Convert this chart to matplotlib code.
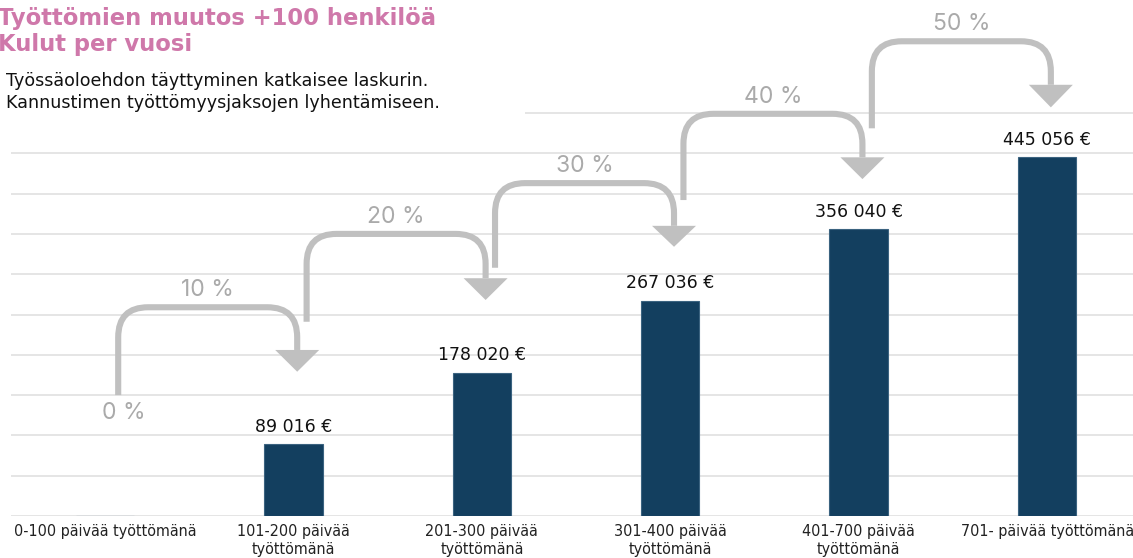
import matplotlib
matplotlib.use("Agg")
import matplotlib.pyplot as plt
from matplotlib.path import Path
from matplotlib.patches import PathPatch, Polygon, Rectangle

# data
categories = ["0-100 päivää työttömänä", "101-200 päivää\ntyöttömänä",
              "201-300 päivää\ntyöttömänä", "301-400 päivää\ntyöttömänä",
              "401-700 päivää\ntyöttömänä", "701- päivää työttömänä"]
values = [0, 89016, 178020, 267036, 356040, 445056]
percents = ["0 %", "10 %", "20 %", "30 %", "40 %", "50 %"]

# step arrows between categories (euros on the value scale)
arrow_start = [150000, 241000, 308000, 392000, 481000]
arrow_top = [259000, 350000, 413000, 499000, 589000]
arrow_head = [206000, 295000, 360000, 445000, 535000]
arrow_tip = [179000, 268000, 334000, 418000, 507000]

BAR = "#133f5f"
GREY = "#c0c0c0"
PINK = "#cf78aa"

fig = plt.figure(figsize=(11.33, 5.58), dpi=100)
ax = fig.add_axes([10.8 / 1133, 42 / 558, 1 - 10.8 / 1133, 516 / 558])
ax.set_xlim(-0.5, 5.456)
ax.set_ylim(0, 516 * 1240.7)

x = list(range(len(categories)))
ax.bar(x, values, width=0.31, color=BAR, edgecolor="#3b6380", linewidth=0.8, zorder=3)

for xi, v in zip(x, values):
    if v > 0:
        lab = f"{v:,}".replace(",", " ") + " €"
        ax.annotate(lab, (xi, v), xytext=(0, 6), textcoords="offset points",
                    ha="center", va="bottom", fontsize=12.5, color="#111111",
                    family="DejaVu Sans", zorder=4)

# arrows
px_x = 1 / 188.4
px_y = 1240.7
r = 30
for i in range(1, len(values)):
    xl = i - 1 + 0.07
    xr = i + 0.02
    top = arrow_top[i - 1]
    rx, ry = r * px_x, r * px_y
    verts = [(xl, arrow_start[i - 1]), (xl, top - ry), (xl, top), (xl + rx, top),
             (xr - rx, top), (xr, top), (xr, top - ry), (xr, arrow_head[i - 1])]
    codes = [Path.MOVETO, Path.LINETO, Path.CURVE3, Path.CURVE3,
             Path.LINETO, Path.CURVE3, Path.CURVE3, Path.LINETO]
    ax.add_patch(PathPatch(Path(verts, codes), fill=False, edgecolor=GREY,
                           linewidth=4.4, capstyle="butt", zorder=2))
    hw = 22 * px_x
    ax.add_patch(Polygon([(xr - hw, arrow_head[i - 1]), (xr + hw, arrow_head[i - 1]),
                          (xr, arrow_tip[i - 1])], closed=True, facecolor=GREY,
                         edgecolor="none", zorder=2))
    ax.text((xl + xr) / 2, top + 17 * px_y, percents[i], ha="center", va="center",
            fontsize=16.5, color="#aaaaaa", family="Inter", zorder=2)

ax.text(0.1, arrow_start[0] - 18 * px_y, percents[0], ha="center", va="center",
        fontsize=16.5, color="#aaaaaa", family="Inter", zorder=2)

ax.set_yticks(range(0, 500001, 50000))
ax.grid(axis="y", color="#e0e0e0", linewidth=1.2, zorder=0)
ax.set_xticks(x)
ax.set_xticklabels(categories, fontsize=11.5, color="#222222", family="DejaVu Sans",
                   fontstretch="condensed", linespacing=1.25)
ax.tick_params(axis="x", length=0, pad=6)
ax.tick_params(axis="y", length=0, labelleft=False)
for s in ax.spines.values():
    s.set_visible(False)

# white box behind the intro text
fig.patches.append(Rectangle((0, (558 - 125) / 558), 525 / 1133, 65 / 558,
                             transform=fig.transFigure, facecolor="white",
                             edgecolor="none", zorder=2))

fig.text(-2 / 1133, 1 - 18 / 558, "Työttömien muutos +100 henkilöä", fontsize=16.3,
         fontweight="bold", family="DejaVu Sans", color=PINK, va="center", zorder=3)
fig.text(-2 / 1133, 1 - 45 / 558, "Kulut per vuosi", fontsize=16.3,
         fontweight="bold", family="DejaVu Sans", color=PINK, va="center", zorder=3)
fig.text(6 / 1133, 1 - 81 / 558, "Työssäoloehdon täyttyminen katkaisee laskurin.",
         fontsize=12.6, family="DejaVu Sans", color="#111111", va="center", zorder=3)
fig.text(6 / 1133, 1 - 103 / 558, "Kannustimen työttömyysjaksojen lyhentämiseen.",
         fontsize=12.6, family="DejaVu Sans", color="#111111", va="center", zorder=3)

fig.savefig("out.png", dpi=100)
